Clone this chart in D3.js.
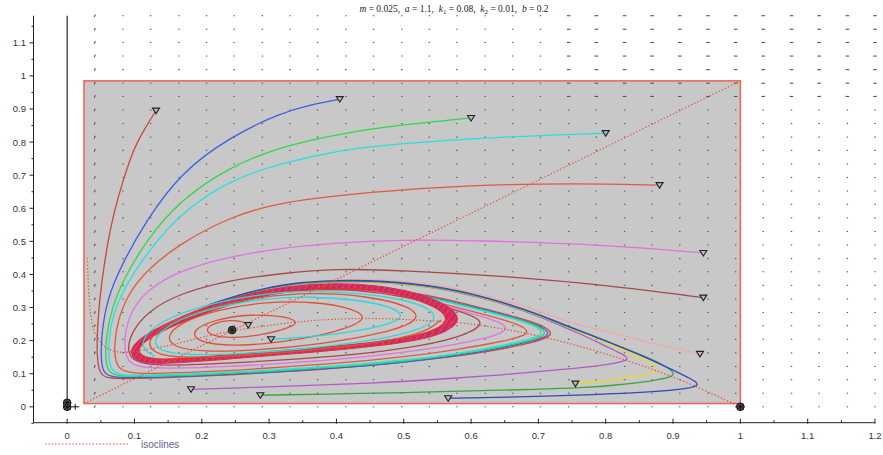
<!DOCTYPE html>
<html>
<head>
<meta charset="utf-8">
<script src="https://cdn.jsdelivr.net/npm/d3@7"></script>
<style>
body { margin: 0; background: #fff; }
svg { display: block; }
</style>
</head>
<body>
<div id="chart"></div>
<script>
// ---- axes ----
const xTicks = [0, 0.1, 0.2, 0.3, 0.4, 0.5, 0.6, 0.7, 0.8, 0.9, 1, 1.1, 1.2]
const xMinorTicks = [-0.05, 0.05, 0.15, 0.25, 0.35, 0.45, 0.55, 0.65, 0.75, 0.85, 0.95, 1.05, 1.15]
const yTicks = [0, 0.1, 0.2, 0.3, 0.4, 0.5, 0.6, 0.7, 0.8, 0.9, 1, 1.1]
const yMinorTicks = [-0.05, 0.05, 0.15, 0.25, 0.35, 0.45, 0.55, 0.65, 0.75, 0.85, 0.95, 1.05, 1.15]

// ---- direction field grid ----
const fieldX = [0.041, 0.083, 0.124, 0.166, 0.207, 0.248, 0.29, 0.331, 0.372, 0.414, 0.455, 0.497, 0.538, 0.579,
  0.621, 0.662, 0.703, 0.745, 0.786, 0.828, 0.869, 0.91, 0.952, 0.993, 1.034, 1.076, 1.117, 1.159, 1.2]
const fieldY = [0, 0.041, 0.082, 0.122, 0.163, 0.204, 0.245, 0.285, 0.326, 0.367, 0.408, 0.448, 0.489, 0.53,
  0.571, 0.612, 0.652, 0.693, 0.734, 0.775, 0.815, 0.856, 0.897, 0.938, 0.978, 1.019, 1.06, 1.101, 1.141, 1.182]

// ---- box and isoclines ----
const boxCorners = [[0.025, 0.01], [1, 0.985]]
const predatorIsocline = [[0.025, 0.01], [1, 0.985]]
const preyIsocline = [[0.03, 0.45], [0.032, 0.35], [0.035, 0.28], [0.04, 0.23], [0.05, 0.195], [0.06, 0.176],
  [0.08, 0.165], [0.1, 0.168], [0.15, 0.185], [0.2, 0.21], [0.245, 0.229], [0.3, 0.246], [0.35, 0.258],
  [0.4, 0.265], [0.45, 0.267], [0.5, 0.264], [0.6, 0.25], [0.7, 0.214], [0.8, 0.16], [0.9, 0.09], [1, 0]]

const equilibria = [[0, 0], [0, 0.012], [1, 0], [0.245, 0.232]]

// ---- trajectories ----
const trajRedBrown = [[0.132, 0.895], [0.115, 0.84], [0.1, 0.786], [0.083, 0.685], [0.069, 0.585], [0.059, 0.484],
  [0.052, 0.385], [0.047, 0.3], [0.044, 0.2], [0.045, 0.135], [0.049, 0.1], [0.058, 0.087], [0.08, 0.084],
  [0.15, 0.088], [0.25, 0.097], [0.35, 0.109], [0.45, 0.124], [0.55, 0.145], [0.63, 0.168], [0.69, 0.193],
  [0.725, 0.215], [0.71, 0.245], [0.67, 0.27], [0.61, 0.302], [0.54, 0.336], [0.47, 0.36], [0.4, 0.371],
  [0.33, 0.364], [0.27, 0.342], [0.21, 0.303]]
const trajBlue = [[0.405, 0.93], [0.36, 0.912], [0.317, 0.888], [0.242, 0.816], [0.168, 0.706], [0.118, 0.565],
  [0.079, 0.423], [0.059, 0.322], [0.051, 0.22], [0.05, 0.14], [0.054, 0.102], [0.065, 0.09], [0.1, 0.087],
  [0.2, 0.094], [0.3, 0.104], [0.4, 0.117], [0.5, 0.134], [0.6, 0.16], [0.672, 0.19], [0.722, 0.213],
  [0.707, 0.243], [0.667, 0.268], [0.607, 0.3], [0.537, 0.333], [0.47, 0.358], [0.4, 0.369], [0.33, 0.362],
  [0.27, 0.34], [0.21, 0.302]]
const trajGreen = [[0.6, 0.873], [0.495, 0.852], [0.405, 0.826], [0.317, 0.786], [0.242, 0.726], [0.168, 0.625],
  [0.118, 0.504], [0.085, 0.39], [0.066, 0.3], [0.057, 0.2], [0.057, 0.135], [0.062, 0.104], [0.074, 0.094],
  [0.1, 0.091], [0.2, 0.097], [0.3, 0.107], [0.4, 0.12], [0.5, 0.137], [0.6, 0.163], [0.67, 0.192],
  [0.717, 0.215], [0.702, 0.244], [0.663, 0.268], [0.604, 0.3], [0.535, 0.332], [0.47, 0.357], [0.4, 0.368],
  [0.33, 0.361], [0.27, 0.339], [0.21, 0.301]]
const trajCyan = [[0.8, 0.827], [0.643, 0.816], [0.495, 0.796], [0.405, 0.776], [0.317, 0.736], [0.242, 0.686],
  [0.168, 0.585], [0.118, 0.464], [0.085, 0.36], [0.068, 0.28], [0.061, 0.2], [0.062, 0.135], [0.067, 0.108],
  [0.08, 0.097], [0.1, 0.094], [0.2, 0.1], [0.3, 0.11], [0.4, 0.123], [0.5, 0.14], [0.6, 0.166], [0.667, 0.194],
  [0.712, 0.217], [0.697, 0.245], [0.658, 0.269], [0.6, 0.3], [0.532, 0.332], [0.47, 0.356], [0.4, 0.367],
  [0.33, 0.36], [0.27, 0.338], [0.21, 0.3]]
const trajRed = [[0.88, 0.67], [0.75, 0.676], [0.6, 0.67], [0.45, 0.65], [0.317, 0.62], [0.242, 0.574],
  [0.168, 0.494], [0.118, 0.413], [0.09, 0.34], [0.075, 0.26], [0.07, 0.19], [0.071, 0.14], [0.078, 0.113],
  [0.093, 0.103], [0.12, 0.1], [0.2, 0.105], [0.3, 0.117], [0.4, 0.131], [0.5, 0.15], [0.58, 0.173],
  [0.645, 0.197], [0.69, 0.219], [0.677, 0.245], [0.64, 0.268], [0.58, 0.3], [0.52, 0.33], [0.46, 0.355],
  [0.4, 0.365], [0.33, 0.359], [0.27, 0.337], [0.21, 0.299]]
const trajMagenta = [[0.945, 0.465], [0.8, 0.49], [0.6, 0.503], [0.495, 0.505], [0.4, 0.496], [0.317, 0.48],
  [0.242, 0.454], [0.168, 0.413], [0.118, 0.353], [0.095, 0.29], [0.085, 0.22], [0.086, 0.16], [0.093, 0.133],
  [0.108, 0.12], [0.14, 0.115], [0.25, 0.122], [0.35, 0.135], [0.45, 0.152], [0.55, 0.178], [0.62, 0.205],
  [0.66, 0.233], [0.64, 0.26], [0.6, 0.282], [0.55, 0.312], [0.48, 0.345], [0.4, 0.361], [0.33, 0.356],
  [0.27, 0.336], [0.21, 0.298]]
const trajBrown = [[0.945, 0.33], [0.8, 0.368], [0.65, 0.395], [0.5, 0.412], [0.4, 0.418], [0.317, 0.403],
  [0.242, 0.383], [0.168, 0.343], [0.125, 0.295], [0.1, 0.24], [0.09, 0.19], [0.092, 0.155], [0.103, 0.136],
  [0.125, 0.127], [0.16, 0.125], [0.25, 0.133], [0.35, 0.145], [0.45, 0.162], [0.53, 0.185], [0.59, 0.215],
  [0.622, 0.252], [0.6, 0.278], [0.56, 0.302], [0.5, 0.334], [0.43, 0.354], [0.36, 0.356], [0.29, 0.342],
  [0.22, 0.305]]
const trajSalmon = [[0.94, 0.16], [0.88, 0.186], [0.822, 0.218], [0.762, 0.245], [0.7, 0.288], [0.683, 0.302],
  [0.62, 0.338], [0.55, 0.37], [0.48, 0.384], [0.42, 0.386], [0.35, 0.378], [0.29, 0.358], [0.23, 0.322],
  [0.18, 0.282]]
const trajViolet = [[0.184, 0.053], [0.25, 0.057], [0.35, 0.064], [0.45, 0.071], [0.55, 0.083], [0.65, 0.097],
  [0.72, 0.11], [0.762, 0.118], [0.805, 0.128], [0.838, 0.141], [0.825, 0.16], [0.795, 0.188], [0.762, 0.221],
  [0.72, 0.257], [0.683, 0.288], [0.62, 0.328], [0.55, 0.361], [0.47, 0.377], [0.4, 0.379], [0.33, 0.37],
  [0.27, 0.345], [0.21, 0.305]]
const trajYellow = [[0.755, 0.07], [0.8, 0.079], [0.84, 0.09], [0.868, 0.101], [0.88, 0.113], [0.866, 0.133],
  [0.83, 0.168], [0.8, 0.196], [0.762, 0.226], [0.72, 0.26], [0.683, 0.29], [0.62, 0.33], [0.55, 0.362],
  [0.47, 0.378], [0.4, 0.38], [0.33, 0.371], [0.27, 0.346], [0.21, 0.306]]
const trajDarkGreen = [[0.287, 0.035], [0.4, 0.039], [0.5, 0.043], [0.6, 0.048], [0.7, 0.053], [0.762, 0.057],
  [0.82, 0.066], [0.872, 0.079], [0.898, 0.09], [0.903, 0.102], [0.888, 0.125], [0.85, 0.16], [0.8, 0.199],
  [0.762, 0.228], [0.72, 0.261], [0.683, 0.291], [0.62, 0.331], [0.55, 0.363], [0.47, 0.379], [0.4, 0.381],
  [0.33, 0.372], [0.27, 0.347], [0.21, 0.307]]
const trajDarkBlue = [[0.566, 0.026], [0.65, 0.029], [0.762, 0.035], [0.85, 0.043], [0.91, 0.051], [0.942, 0.063],
  [0.93, 0.082], [0.893, 0.118], [0.85, 0.158], [0.8, 0.2], [0.762, 0.23], [0.72, 0.263], [0.683, 0.293],
  [0.62, 0.333], [0.55, 0.365], [0.47, 0.381], [0.4, 0.383], [0.33, 0.374], [0.27, 0.348], [0.21, 0.308]]
const trajInnerRed = [[0.269, 0.247], [0.262, 0.258], [0.242, 0.263], [0.216, 0.252], [0.205, 0.233], [0.214, 0.215],
  [0.245, 0.207], [0.29, 0.217], [0.33, 0.238], [0.345, 0.257], [0.322, 0.275], [0.272, 0.28], [0.222, 0.265],
  [0.19, 0.237], [0.187, 0.21], [0.207, 0.191], [0.255, 0.183], [0.33, 0.198], [0.4, 0.226], [0.448, 0.263],
  [0.428, 0.297], [0.366, 0.318], [0.296, 0.318], [0.224, 0.294], [0.168, 0.255], [0.147, 0.212], [0.158, 0.18],
  [0.2, 0.166], [0.28, 0.17], [0.38, 0.19], [0.47, 0.222], [0.528, 0.262], [0.51, 0.305], [0.445, 0.335],
  [0.365, 0.346], [0.282, 0.332], [0.205, 0.297], [0.145, 0.25], [0.12, 0.205], [0.124, 0.168], [0.152, 0.15],
  [0.21, 0.149], [0.3, 0.16], [0.4, 0.178], [0.48, 0.2], [0.535, 0.228], [0.555, 0.262]]
const trajInnerCyan = [[0.303, 0.204], [0.36, 0.211], [0.43, 0.228], [0.478, 0.25], [0.502, 0.272], [0.484, 0.302],
  [0.43, 0.324], [0.36, 0.334], [0.29, 0.327], [0.222, 0.302], [0.168, 0.266], [0.136, 0.226], [0.128, 0.19],
  [0.143, 0.166], [0.18, 0.156], [0.25, 0.159], [0.35, 0.174], [0.45, 0.198], [0.518, 0.228], [0.55, 0.262],
  [0.54, 0.298], [0.5, 0.324], [0.44, 0.343], [0.36, 0.351], [0.28, 0.34], [0.2, 0.306], [0.14, 0.26],
  [0.112, 0.21], [0.112, 0.172], [0.13, 0.152]]

// ---- limit cycle band (outer and inner edge) ----
const cycleOuter = [[0.093, 0.175], [0.097, 0.15], [0.108, 0.136], [0.13, 0.13], [0.17, 0.133], [0.25, 0.146],
  [0.32, 0.158], [0.4, 0.171], [0.46, 0.184], [0.52, 0.2], [0.562, 0.224], [0.583, 0.257], [0.577, 0.288],
  [0.555, 0.317], [0.52, 0.345], [0.46, 0.368], [0.4, 0.374], [0.33, 0.366], [0.26, 0.338], [0.2, 0.298],
  [0.15, 0.255], [0.113, 0.215]]
const cycleInner = [[0.104, 0.177], [0.108, 0.158], [0.12, 0.147], [0.14, 0.143], [0.178, 0.146], [0.25, 0.158],
  [0.32, 0.17], [0.4, 0.183], [0.46, 0.196], [0.512, 0.211], [0.548, 0.232], [0.565, 0.259], [0.56, 0.285],
  [0.54, 0.308], [0.51, 0.332], [0.46, 0.353], [0.4, 0.359], [0.337, 0.353], [0.27, 0.327], [0.212, 0.29],
  [0.163, 0.25], [0.124, 0.213]]

// trajectories in drawing order with their colours
const trajectories = [
  {pts: trajSalmon, color: "#f2a8a4"},
  {pts: trajViolet, color: "#b458c8"},
  {pts: trajYellow, color: "#f0d820"},
  {pts: trajDarkGreen, color: "#34a840"},
  {pts: trajDarkBlue, color: "#3048c0"},
  {pts: trajRedBrown, color: "#c8483a"},
  {pts: trajBlue, color: "#3b5ee6"},
  {pts: trajGreen, color: "#2fd84a"},
  {pts: trajCyan, color: "#27e0e0"},
  {pts: trajRed, color: "#e2593f"},
  {pts: trajMagenta, color: "#e46fe4"},
  {pts: trajBrown, color: "#a8484a"}
]
const innerTrajectories = [
  {pts: trajInnerRed, color: "#e0503c"},
  {pts: trajInnerCyan, color: "#2ad8dc"}
]

// ---- drawing ----
const W = 883, H = 455
const svg = d3.select("#chart").append("svg")
  .attr("width", W)
  .attr("height", H)
  .style("font-family", "'Liberation Sans', Arial, sans-serif")

const x = d3.scaleLinear().domain([-0.05, 1.2]).range([33.5, 875])
const y = d3.scaleLinear().domain([-0.048, 1.182]).range([422.7, 15.7])

const defs = svg.append("defs")
const pat = defs.append("pattern")
  .attr("id", "bandPat")
  .attr("patternUnits", "userSpaceOnUse")
  .attr("width", 5).attr("height", 5)
  .attr("patternTransform", "rotate(35)")
pat.append("rect").attr("width", 5).attr("height", 5).attr("fill", "#e4222c")
pat.append("rect").attr("width", 1).attr("height", 5).attr("fill", "#c848c8")
pat.append("rect").attr("x", 3).attr("width", 0.6).attr("height", 5).attr("fill", "#7058d8")

// grey box
svg.append("rect")
  .attr("x", x(boxCorners[0][0]))
  .attr("y", y(boxCorners[1][1]))
  .attr("width", x(boxCorners[1][0]) - x(boxCorners[0][0]))
  .attr("height", y(boxCorners[0][1]) - y(boxCorners[1][1]))
  .attr("fill", "#c8c8c8")
  .attr("stroke", "#f0675a")
  .attr("stroke-width", 1.6)

// direction field
const field = []
fieldX.forEach(fx => fieldY.forEach(fy => field.push([fx, fy])))
const halfW = d => d[0] < 0.05 ? 0.6 : (d[0] > 0.74 && d[1] > 0.93) ? 1.8 : 0.7
const halfH = d => d[0] < 0.05 ? 1.3 : 0
svg.append("g")
  .selectAll("line")
  .data(field)
  .join("line")
  .attr("x1", d => x(d[0]) - halfW(d))
  .attr("x2", d => x(d[0]) + halfW(d))
  .attr("y1", d => y(d[1]) + halfH(d))
  .attr("y2", d => y(d[1]) - halfH(d))
  .attr("stroke", "#555")
  .attr("stroke-width", 1.1)

// x = 0 column of the field (vertical arrows forming a line)
svg.append("line")
  .attr("x1", x(0)).attr("x2", x(0))
  .attr("y1", y(fieldY[fieldY.length - 1])).attr("y2", y(0))
  .attr("stroke", "#111")
  .attr("stroke-width", 1.1)

// axes
const axisColor = "#222"
const gx = svg.append("g")
gx.append("line")
  .attr("x1", x(-0.05)).attr("x2", x(1.2))
  .attr("y1", y(-0.048)).attr("y2", y(-0.048))
  .attr("stroke", axisColor)
gx.selectAll(".maj").data(xTicks).join("line")
  .attr("x1", d => x(d)).attr("x2", d => x(d))
  .attr("y1", y(-0.048) - 4).attr("y2", y(-0.048) + 1)
  .attr("stroke", axisColor)
gx.selectAll(".min").data(xMinorTicks).join("line")
  .attr("x1", d => x(d)).attr("x2", d => x(d))
  .attr("y1", y(-0.048) - 2.5).attr("y2", y(-0.048))
  .attr("stroke", axisColor)
gx.selectAll("text").data(xTicks).join("text")
  .attr("x", d => x(d))
  .attr("y", 438.5)
  .attr("text-anchor", "middle")
  .attr("font-size", 9.5)
  .attr("fill", "#333")
  .text(d => d3.format("~g")(d))

const gy = svg.append("g")
gy.append("line")
  .attr("x1", x(-0.05)).attr("x2", x(-0.05))
  .attr("y1", y(1.182)).attr("y2", y(-0.048))
  .attr("stroke", axisColor)
gy.selectAll(".maj").data(yTicks).join("line")
  .attr("x1", x(-0.05) - 4).attr("x2", x(-0.05))
  .attr("y1", d => y(d)).attr("y2", d => y(d))
  .attr("stroke", axisColor)
gy.selectAll(".min").data(yMinorTicks).join("line")
  .attr("x1", x(-0.05) - 2).attr("x2", x(-0.05))
  .attr("y1", d => y(d)).attr("y2", d => y(d))
  .attr("stroke", axisColor)
gy.selectAll("text").data(yTicks).join("text")
  .attr("x", 26)
  .attr("y", d => y(d) + 3.4)
  .attr("text-anchor", "end")
  .attr("font-size", 9.5)
  .attr("fill", "#333")
  .text(d => d3.format("~g")(d))

// trajectories
const line = d3.line()
  .x(d => x(d[0]))
  .y(d => y(d[1]))
  .curve(d3.curveBasis)

svg.append("g")
  .selectAll("path")
  .data(trajectories)
  .join("path")
  .attr("d", d => line(d.pts))
  .attr("fill", "none")
  .attr("stroke", d => d.color)
  .attr("stroke-width", 1.3)

// limit cycle band
const loop = d3.line()
  .x(d => x(d[0]))
  .y(d => y(d[1]))
  .curve(d3.curveBasisClosed)
svg.append("path")
  .attr("d", loop(cycleOuter) + loop(cycleInner))
  .attr("fill", "url(#bandPat)")
  .attr("fill-rule", "evenodd")
svg.append("path")
  .attr("d", loop(cycleOuter))
  .attr("fill", "none")
  .attr("stroke", "#d8304e")
  .attr("stroke-width", 1.1)
svg.append("path")
  .attr("d", loop(cycleInner))
  .attr("fill", "none")
  .attr("stroke", "#e03030")
  .attr("stroke-width", 1.4)

svg.append("g")
  .selectAll("path")
  .data(innerTrajectories)
  .join("path")
  .attr("d", d => line(d.pts))
  .attr("fill", "none")
  .attr("stroke", d => d.color)
  .attr("stroke-width", 1.3)

// isoclines
const iso = svg.append("g")
  .attr("fill", "none")
  .attr("stroke", "#e8503c")
  .attr("stroke-width", 1.2)
  .attr("stroke-dasharray", "1.4,2")
iso.append("path").attr("d", d3.line().x(d => x(d[0])).y(d => y(d[1]))(predatorIsocline))
iso.append("path").attr("d", d3.line().x(d => x(d[0])).y(d => y(d[1])).curve(d3.curveCatmullRom)(preyIsocline))

// start markers (inverted triangles)
const starts = trajectories.concat(innerTrajectories).map(t => t.pts[0])
svg.append("g")
  .selectAll("path")
  .data(starts)
  .join("path")
  .attr("d", d => {
    const cx = x(d[0]), cy = y(d[1])
    return `M${cx - 3.5},${cy - 2.5}L${cx + 3.5},${cy - 2.5}L${cx},${cy + 3}Z`
  })
  .attr("fill", "#bdbdbd")
  .attr("stroke", "#222")
  .attr("stroke-width", 1.1)

// equilibria
const eq = svg.append("g").attr("stroke", "#111").attr("stroke-width", 1)
equilibria.forEach(d => {
  const cx = x(d[0]), cy = y(d[1])
  eq.append("circle").attr("cx", cx).attr("cy", cy).attr("r", 3.8).attr("fill", "#666")
  eq.append("path").attr("d",
    `M${cx - 4},${cy}H${cx + 4}M${cx},${cy - 4}V${cy + 4}M${cx - 3},${cy - 3}L${cx + 3},${cy + 3}M${cx - 3},${cy + 3}L${cx + 3},${cy - 3}`)
})
eq.append("path")
  .attr("d", `M${x(0.006)},${y(0)}H${x(0.018)}M${x(0.012)},${y(0) - 3}V${y(0) + 3}`)

// title
const title = svg.append("text")
  .attr("x", 454)
  .attr("y", 12)
  .attr("text-anchor", "middle")
  .attr("font-family", "'Liberation Serif', 'DejaVu Serif', serif")
  .attr("font-size", 9.5)
  .attr("fill", "#222")
  .style("white-space", "pre")
const parts = [["m", 1], [" = 0.025,  ", 0], ["a", 1], [" = 1.1,  ", 0], ["k", 1], ["1", 2], [" = 0.08,  ", 0],
  ["k", 1], ["2", 2], [" = 0.01,  ", 0], ["b", 1], [" = 0.2", 0]]
parts.forEach((p, i) => {
  const t = title.append("tspan").text(p[0])
  if (p[1] === 1) t.attr("font-style", "italic")
  if (p[1] === 2) t.attr("font-size", 7).attr("dy", 2)
  if (i > 0 && parts[i - 1][1] === 2) t.attr("dy", -2)
})

// legend
svg.append("line")
  .attr("x1", 45).attr("x2", 128)
  .attr("y1", 444).attr("y2", 444)
  .attr("stroke", "#e8503c")
  .attr("stroke-width", 1.2)
  .attr("stroke-dasharray", "1.4,2")
svg.append("text")
  .attr("x", 141)
  .attr("y", 447.5)
  .attr("font-size", 10)
  .attr("fill", "#6c5a8c")
  .text("isoclines")
</script>
</body>
</html>
